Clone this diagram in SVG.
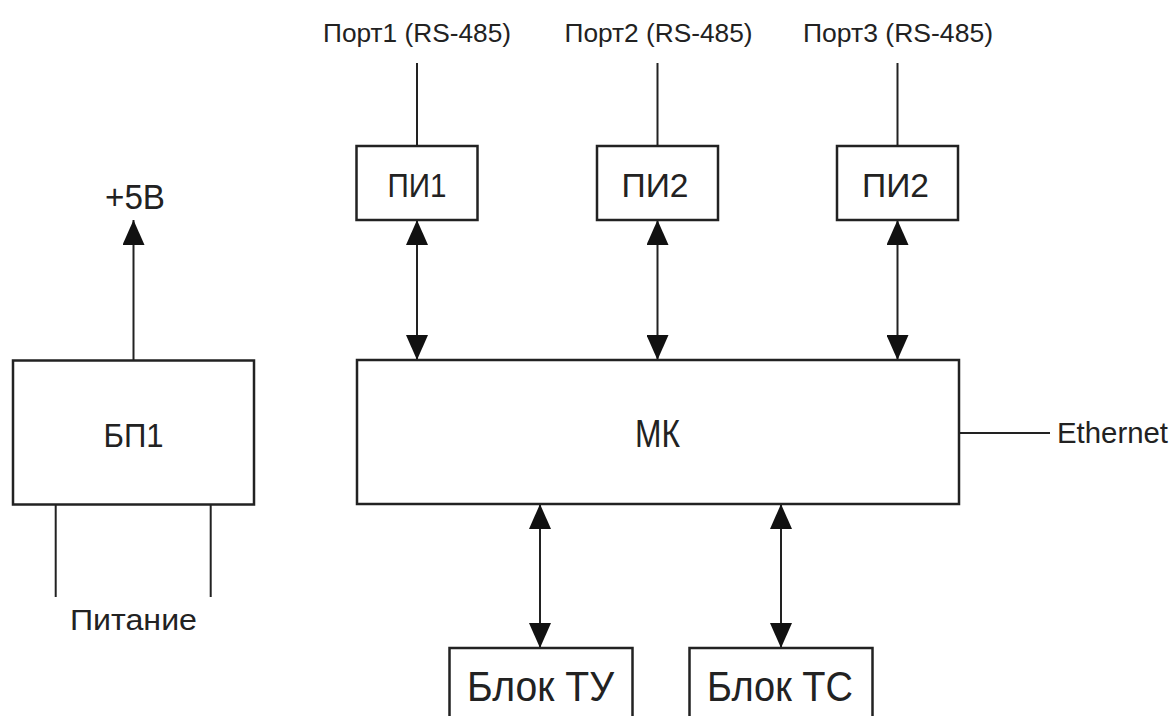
<svg xmlns="http://www.w3.org/2000/svg" width="1173" height="716" viewBox="0 0 1173 716">
  <style>
    .box { fill: #ffffff; stroke: #222222; stroke-width: 2.5; }
    .wire { fill: none; stroke: #222222; stroke-width: 2; }
    .lbl { font-family: "Liberation Sans", "DejaVu Sans", sans-serif; fill: #222222; }
  </style>
  <defs>
    <marker id="arrow" viewBox="0 0 25 22" refX="25" refY="11" markerWidth="25" markerHeight="22" markerUnits="userSpaceOnUse" orient="auto-start-reverse">
      <path d="M0,0 L25,11 L0,22 Z" fill="#111111"/>
    </marker>
  </defs>
  <rect width="1173" height="716" fill="#ffffff"/>

  <!-- connectors -->
  <g id="connectors">
    <!-- power supply output -->
    <line class="wire" x1="133.5" y1="360" x2="133.5" y2="220" marker-end="url(#arrow)"/>
    <!-- mains input -->
    <line class="wire" x1="55.7" y1="504" x2="55.7" y2="597"/>
    <line class="wire" x1="210.7" y1="504" x2="210.7" y2="597"/>
    <!-- RS-485 port leads -->
    <line class="wire" x1="417" y1="63" x2="417" y2="146"/>
    <line class="wire" x1="657.5" y1="63" x2="657.5" y2="146"/>
    <line class="wire" x1="897.5" y1="63" x2="897.5" y2="146"/>
    <!-- converters to MCU -->
    <line class="wire" x1="417" y1="220" x2="417" y2="360" marker-start="url(#arrow)" marker-end="url(#arrow)"/>
    <line class="wire" x1="657.5" y1="220" x2="657.5" y2="360" marker-start="url(#arrow)" marker-end="url(#arrow)"/>
    <line class="wire" x1="897.5" y1="220" x2="897.5" y2="360" marker-start="url(#arrow)" marker-end="url(#arrow)"/>
    <!-- MCU to I/O blocks -->
    <line class="wire" x1="540" y1="504" x2="540" y2="648" marker-start="url(#arrow)" marker-end="url(#arrow)"/>
    <line class="wire" x1="781" y1="504" x2="781" y2="648" marker-start="url(#arrow)" marker-end="url(#arrow)"/>
    <!-- Ethernet -->
    <line class="wire" x1="959" y1="433" x2="1050" y2="433"/>
  </g>

  <!-- free labels -->
  <g id="labels">
    <text class="lbl" x="417" y="42" font-size="26" text-anchor="middle" textLength="188" lengthAdjust="spacingAndGlyphs">Порт1 (RS-485)</text>
    <text class="lbl" x="658.5" y="42" font-size="26" text-anchor="middle" textLength="188" lengthAdjust="spacingAndGlyphs">Порт2 (RS-485)</text>
    <text class="lbl" x="898" y="42" font-size="26" text-anchor="middle" textLength="190" lengthAdjust="spacingAndGlyphs">Порт3 (RS-485)</text>
    <text class="lbl" x="135" y="209" font-size="35" text-anchor="middle" textLength="60" lengthAdjust="spacingAndGlyphs">+5В</text>
    <text class="lbl" x="133.5" y="630" font-size="30" text-anchor="middle" textLength="127" lengthAdjust="spacingAndGlyphs">Питание</text>
    <text class="lbl" x="1057" y="443" font-size="30" textLength="111" lengthAdjust="spacingAndGlyphs">Ethernet</text>
  </g>

  <g id="bp1">
    <rect class="box" x="13" y="360.5" width="241" height="144"/>
    <text class="lbl" x="133.5" y="446.5" font-size="32.5" text-anchor="middle" textLength="60" lengthAdjust="spacingAndGlyphs">БП1</text>
  </g>

  <g id="pi1">
    <rect class="box" x="356.5" y="146" width="121" height="74"/>
    <text class="lbl" x="417" y="197" font-size="34" text-anchor="middle" textLength="59" lengthAdjust="spacingAndGlyphs">ПИ1</text>
  </g>

  <g id="pi2">
    <rect class="box" x="597" y="146" width="121" height="74"/>
    <text class="lbl" x="655" y="197" font-size="34" text-anchor="middle" textLength="67" lengthAdjust="spacingAndGlyphs">ПИ2</text>
  </g>

  <g id="pi3">
    <rect class="box" x="837" y="146" width="121" height="74"/>
    <text class="lbl" x="895.5" y="197" font-size="34" text-anchor="middle" textLength="67" lengthAdjust="spacingAndGlyphs">ПИ2</text>
  </g>

  <g id="mk">
    <rect class="box" x="357" y="360" width="602" height="144"/>
    <text class="lbl" x="657.5" y="446.5" font-size="39.5" text-anchor="middle" textLength="45" lengthAdjust="spacingAndGlyphs">МК</text>
  </g>

  <g id="block-tu">
    <rect class="box" x="449.5" y="648" width="183" height="90"/>
    <text class="lbl" x="540.5" y="701" font-size="43" text-anchor="middle" textLength="147" lengthAdjust="spacingAndGlyphs">Блок ТУ</text>
  </g>

  <g id="block-ts">
    <rect class="box" x="689.5" y="648" width="183" height="90"/>
    <text class="lbl" x="780" y="701" font-size="43" text-anchor="middle" textLength="146" lengthAdjust="spacingAndGlyphs">Блок ТС</text>
  </g>
</svg>
